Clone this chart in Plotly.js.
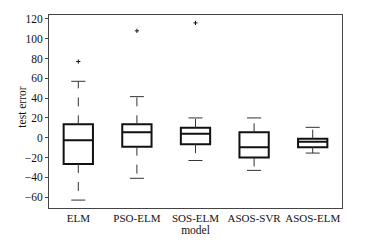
<!DOCTYPE html>
<html>
<head>
<meta charset="utf-8">
<script src="https://cdn.plot.ly/plotly-3.0.1.min.js"></script>
<style>html,body{margin:0;padding:0;background:#fff;}#chart{width:365px;height:246px;}</style>
</head>
<body>
<div id="chart"></div>
<script>
const categories = ["ELM", "PSO-ELM", "SOS-ELM", "ASOS-SVR", "ASOS-ELM"];
const lowerWhisker = [-63, -41, -23, -33, -15.5];
const q1 = [-26.5, -9, -6.5, -20, -9.5];
const median = [-2.5, 5.5, 4, -9.5, -4];
const q3 = [13.5, 13.5, 10, 5.5, -1];
const upperWhisker = [57, 41.5, 20, 20, 10.5];
const outlierCat = [0, 1, 2];
const outlierVal = [77, 108, 116];
const yTicks = [-60, -40, -20, 0, 20, 40, 60, 80, 100, 120];

const pos = categories.map((c, i) => i);
const capHalf = 0.12;

const wx = [], wy = [], cx = [], cy = [];
pos.forEach(i => {
  wx.push(i, i, null, i, i, null);
  wy.push(q3[i], upperWhisker[i], null, q1[i], lowerWhisker[i], null);
  cx.push(i - capHalf, i + capHalf, null, i - capHalf, i + capHalf, null);
  cy.push(upperWhisker[i], upperWhisker[i], null, lowerWhisker[i], lowerWhisker[i], null);
});

const font = {family: "Liberation Serif, Times New Roman, serif", size: 11.5, color: "#111"};
const xfont = {family: "Liberation Serif, Times New Roman, serif", size: 11, color: "#111"};

const data = [
  {type: "scatter", mode: "lines", x: wx, y: wy, line: {color: "#333", width: 1, dash: "dash"}, hoverinfo: "skip", showlegend: false},
  {type: "scatter", mode: "lines", x: cx, y: cy, line: {color: "#333", width: 1}, hoverinfo: "skip", showlegend: false},
  {type: "box", x: pos, q1: q1, median: median, q3: q3, lowerfence: q1, upperfence: q3,
   width: 0.5, whiskerwidth: 0, boxpoints: false, fillcolor: "rgba(255,255,255,0)",
   line: {color: "#111", width: 2}, showlegend: false},
  {type: "scatter", mode: "markers", x: outlierCat, y: outlierVal,
   marker: {symbol: "cross-thin-open", size: 3, color: "#111", line: {color: "#111", width: 1}}, showlegend: false}
];

const layout = {
  width: 365, height: 246,
  margin: {l: 49, r: 23, t: 15, b: 38},
  paper_bgcolor: "#fff", plot_bgcolor: "#fff",
  font: font,
  showlegend: false,
  xaxis: {
    range: [-0.5, 4.5], tickmode: "array", tickvals: pos, ticktext: categories,
    showgrid: false, zeroline: false, showline: true, mirror: true, linecolor: "#444", linewidth: 1,
    ticks: "", tickangle: 0, tickfont: xfont, automargin: false,
    title: {text: "model", font: font, standoff: 2}
  },
  yaxis: {
    range: [-71, 124], tickmode: "array", tickvals: yTicks,
    showgrid: false, zeroline: false, showline: true, mirror: true, linecolor: "#444", linewidth: 1,
    ticks: "outside", ticklen: 3, tickcolor: "#444", tickfont: font, automargin: false
  },
  annotations: [{
    text: "test error", xref: "paper", yref: "paper", x: 0, y: 0.52,
    xanchor: "center", yanchor: "middle", xshift: -27, textangle: -90,
    showarrow: false, font: font
  }]
};

Plotly.newPlot("chart", data, layout, {staticPlot: true, displayModeBar: false});
</script>
</body>
</html>
